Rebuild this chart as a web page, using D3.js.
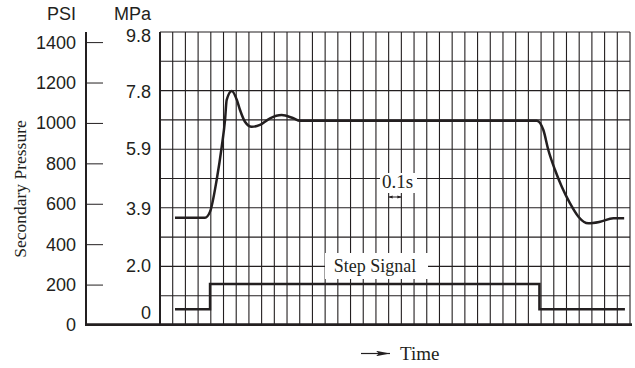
<!DOCTYPE html>
<html><head><meta charset="utf-8">
<script src="https://cdn.jsdelivr.net/npm/d3@7"></script>
<style>body{margin:0;background:#fff}svg{display:block}</style>
</head><body>
<script>
// ---- data ----
const psiTicks = [0, 200, 400, 600, 800, 1000, 1200, 1400];
const mpaTicks = [0, 2.0, 3.9, 5.9, 7.8, 9.8];
const mpaTickLabels = ["0", "2.0", "3.9", "5.9", "7.8", "9.8"];
const gridColumns = 37;      // each column = 0.1 s
const gridRows = 10;
// secondary pressure response (time in 0.1 s columns, pressure in PSI)
const pressureTime = [1.18, 3.54, 3.94, 4.46, 4.86, 5.12, 5.25, 5.65, 6.05, 6.30, 6.69, 7.22, 7.87, 8.66, 9.58, 10.50, 11.02, 29.66, 30.18, 30.57, 31.10, 31.63, 32.28, 32.94, 33.72, 34.65, 35.69, 36.54];
const pressurePsi  = [531, 531, 561, 718, 882, 1015, 1114, 1158, 1114, 1064, 1006, 981, 990, 1023, 1039, 1023, 1011, 1011, 965, 866, 767, 684, 602, 536, 503, 511, 528, 528];
// step signal
const stepTime = [1.18, 3.94, 29.87, 36.6];
const stepPsi  = [78, 203, 78, 78];

const W = 635, H = 368;
const svg = d3.select("body").append("svg").attr("width", W).attr("height", H);

const x = d3.scaleLinear().domain([0, gridColumns]).range([160, 630]);
const yMpa = d3.scaleLinear().domain([0, 9.8]).range([325, 32]);
const yPsi = d3.scaleLinear().domain([0, 1450]).range([325, 32]);

const ink = "#231f20";
const sans = "'Liberation Sans', Arial, sans-serif";
const serif = "'Liberation Serif', 'Times New Roman', serif";

// grid
const grid = svg.append("g");
grid.selectAll("line.v").data(d3.range(0, gridColumns + 1)).join("line")
  .attr("x1", d => x(d)).attr("x2", d => x(d))
  .attr("y1", yMpa(9.8)).attr("y2", yMpa(0))
  .attr("stroke", ink).attr("stroke-width", 1.1);
grid.selectAll("line.h").data(d3.range(0, gridRows + 1)).join("line")
  .attr("x1", x(0)).attr("x2", x(gridColumns))
  .attr("y1", d => yMpa(d * 9.8 / gridRows)).attr("y2", d => yMpa(d * 9.8 / gridRows))
  .attr("stroke", ink).attr("stroke-width", 1.1);
// left border of grid
svg.append("line").attr("x1", x(0)).attr("x2", x(0)).attr("y1", yMpa(9.8)).attr("y2", yMpa(0))
  .attr("stroke", ink).attr("stroke-width", 2);

// PSI axis
const psiAxis = d3.axisRight(yPsi).tickValues(psiTicks).tickSize(17).tickFormat("");
const gPsi = svg.append("g").attr("transform", "translate(86,0)").call(psiAxis);
gPsi.select(".domain").remove();
gPsi.selectAll(".tick line").attr("stroke", ink).attr("stroke-width", 1);
svg.append("line").attr("x1", 86).attr("x2", 86).attr("y1", 32).attr("y2", 325)
  .attr("stroke", ink).attr("stroke-width", 2);
svg.append("g").selectAll("text").data(psiTicks).join("text")
  .attr("x", 76).attr("y", d => yPsi(d)).attr("dy", "0.36em")
  .attr("text-anchor", "end").attr("font-family", sans).attr("font-size", 18).attr("fill", ink)
  .text(d => d);
svg.append("text").attr("x", 76).attr("y", 20).attr("text-anchor", "end")
  .attr("font-family", sans).attr("font-size", 18).attr("fill", ink).text("PSI");

// MPa labels
svg.append("g").selectAll("text").data(mpaTicks).join("text")
  .attr("x", 151).attr("y", d => Math.min(Math.max(yMpa(d), 36), 313)).attr("dy", "0.36em")
  .attr("text-anchor", "end").attr("font-family", sans).attr("font-size", 18).attr("fill", ink)
  .text((d, i) => mpaTickLabels[i]);
svg.append("text").attr("x", 151).attr("y", 20).attr("text-anchor", "end")
  .attr("font-family", sans).attr("font-size", 18).attr("fill", ink).text("MPa");

// bottom axis line
svg.append("line").attr("x1", 85).attr("x2", 632).attr("y1", 324.7).attr("y2", 324.7)
  .attr("stroke", ink).attr("stroke-width", 2.7);

// y title
svg.append("text").attr("transform", "translate(26,189) rotate(-90)")
  .attr("text-anchor", "middle").attr("font-family", serif).attr("font-size", 17.5).attr("fill", ink)
  .text("Secondary Pressure");

// 0.1s annotation
const lab1 = svg.append("g");
lab1.append("rect").attr("x", 380).attr("y", 173).attr("width", 37).attr("height", 20).attr("fill", "#fff");
lab1.append("text").attr("x", 397.5).attr("y", 188).attr("text-anchor", "middle")
  .attr("font-family", serif).attr("font-size", 19).attr("fill", ink).text("0.1s");
const defs = svg.append("defs");
defs.append("marker").attr("id", "ah").attr("viewBox", "0 0 10 10").attr("refX", 10).attr("refY", 5)
  .attr("markerWidth", 4).attr("markerHeight", 4).attr("orient", "auto-start-reverse")
  .append("path").attr("d", "M0,1 L10,5 L0,9 Z").attr("fill", ink);
svg.append("line").attr("x1", x(18)).attr("x2", x(19)).attr("y1", 197).attr("y2", 197)
  .attr("stroke", ink).attr("stroke-width", 1)
  .attr("marker-start", "url(#ah)").attr("marker-end", "url(#ah)");

// step signal label box
svg.append("rect").attr("x", 325).attr("y", 253).attr("width", 103).attr("height", 26).attr("fill", "#fff");
svg.append("text").attr("x", 375).attr("y", 272).attr("text-anchor", "middle")
  .attr("font-family", serif).attr("font-size", 18).attr("fill", ink).text("Step Signal");

// step signal
const stepPts = stepTime.map((t, i) => [t, stepPsi[i]]);
svg.append("path").datum(stepPts)
  .attr("d", d3.line().x(d => x(d[0])).y(d => yPsi(d[1])).curve(d3.curveStepAfter))
  .attr("fill", "none").attr("stroke", ink).attr("stroke-width", 2.5);

// pressure curve
const presPts = pressureTime.map((t, i) => [t, pressurePsi[i]]);
svg.append("path").datum(presPts)
  .attr("d", d3.line().x(d => x(d[0])).y(d => yPsi(d[1])).curve(d3.curveMonotoneX))
  .attr("fill", "none").attr("stroke", ink).attr("stroke-width", 2.5);

// time arrow and label
defs.append("marker").attr("id", "ta").attr("viewBox", "0 0 10 10").attr("refX", 10).attr("refY", 5)
  .attr("markerWidth", 14).attr("markerHeight", 5.5).attr("markerUnits", "userSpaceOnUse").attr("orient", "auto")
  .attr("preserveAspectRatio", "none")
  .append("path").attr("d", "M0,0 L10,5 L0,10 L2,5 Z").attr("fill", ink);
svg.append("line").attr("x1", 361).attr("x2", 390).attr("y1", 353.5).attr("y2", 353.5)
  .attr("stroke", ink).attr("stroke-width", 1.2).attr("marker-end", "url(#ta)");
svg.append("text").attr("x", 400).attr("y", 360)
  .attr("font-family", serif).attr("font-size", 19).attr("fill", ink).text("Time");
</script>
</body></html>
